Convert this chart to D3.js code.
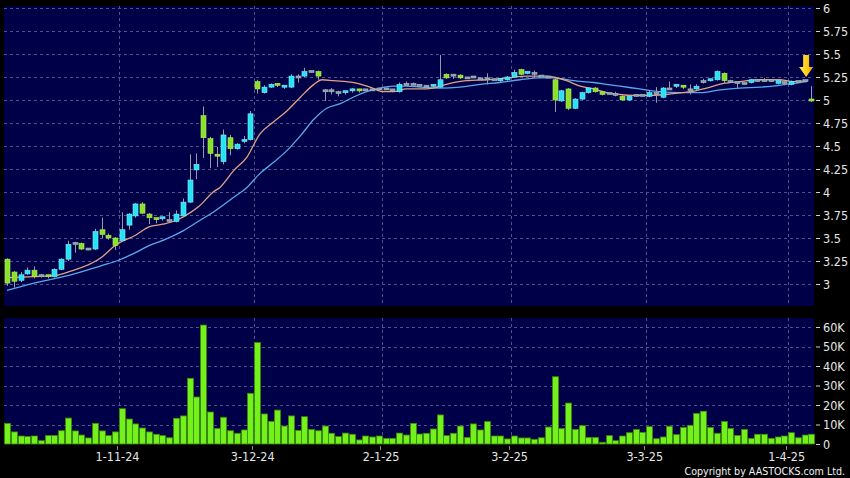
<!DOCTYPE html>
<html><head><meta charset="utf-8">
<script src="https://cdn.jsdelivr.net/npm/d3@7/dist/d3.min.js"></script>
<style>html,body{margin:0;padding:0;background:#000;}svg{display:block;}</style>
</head><body>
<svg id="chart" width="850" height="478"></svg>
<script>
// ---- data ----
const openP  = [3.27,3.13,3.04,3.11,3.15,3.09,3.09,3.08,3.16,3.27, 3.44,3.44,3.38,3.38,3.59,3.53,3.50,3.47,3.64,3.74,
                3.87,3.76,3.71,3.70,3.69,3.68,3.74,3.89,4.24,4.83, 4.58,4.40,4.33,4.59,4.47,4.54,4.57,5.20,5.08,5.14,
                5.17,5.13,5.14,5.25,5.26,5.31,5.31,5.10,5.10,5.08, 5.07,5.09,5.11,5.11,5.11,5.12,5.12,5.11,5.09,5.17,
                5.17,5.16,5.15,5.14,5.14,5.28,5.27,5.27,5.24,5.25, 5.23,5.23,5.22,5.20,5.22,5.25,5.33,5.29,5.29,5.26,
                5.25,5.22,4.99,5.12,4.91,5.01,5.08,5.13,5.09,5.07, 5.06,5.04,5.00,5.05,5.05,5.04,5.07,5.03,5.12,5.14,
                5.15,5.11,5.12,5.20,5.21,5.22,5.29,5.20,5.19,5.18, 5.19,5.21,5.21,5.21,5.18,5.19,5.17,5.20,5.21,5.00];
const closeP = [3.01,3.03,3.10,3.15,3.08,3.09,3.07,3.16,3.27,3.43, 3.44,3.38,3.38,3.57,3.54,3.50,3.42,3.59,3.76,3.87,
                3.77,3.72,3.70,3.72,3.69,3.76,3.89,4.13,4.30,4.59, 4.42,4.38,4.62,4.47,4.52,4.56,4.85,5.12,5.14,5.17,
                5.15,5.15,5.26,5.25,5.31,5.31,5.26,5.10,5.10,5.08, 5.09,5.11,5.09,5.11,5.11,5.12,5.12,5.11,5.17,5.17,
                5.17,5.16,5.15,5.16,5.22,5.24,5.27,5.24,5.24,5.25, 5.23,5.23,5.22,5.22,5.25,5.30,5.28,5.30,5.29,5.26,
                5.25,5.00,5.10,4.91,5.01,5.08,5.13,5.09,5.06,5.07, 5.06,5.00,5.04,5.05,5.05,5.08,5.07,5.13,5.12,5.16,
                5.13,5.11,5.15,5.20,5.22,5.31,5.21,5.20,5.19,5.18, 5.22,5.21,5.21,5.21,5.21,5.19,5.20,5.20,5.21,4.98];
const highP  = [3.28,3.14,3.13,3.18,3.19,3.11,3.10,3.17,3.28,3.47, 3.46,3.45,3.39,3.60,3.72,3.55,3.51,3.78,3.77,3.88,
                3.89,3.77,3.72,3.73,3.78,3.80,3.93,4.41,4.42,4.93, 4.60,4.49,4.68,4.62,4.53,4.61,4.88,5.22,5.16,5.18,
                5.18,5.16,5.28,5.28,5.35,5.32,5.32,5.12,5.13,5.10, 5.10,5.13,5.12,5.12,5.12,5.13,5.13,5.12,5.19,5.20,
                5.19,5.17,5.16,5.17,5.49,5.29,5.28,5.28,5.25,5.26, 5.24,5.29,5.23,5.22,5.26,5.33,5.34,5.31,5.32,5.27,
                5.26,5.23,5.11,5.13,5.02,5.09,5.14,5.14,5.10,5.08, 5.09,5.05,5.05,5.06,5.06,5.10,5.14,5.14,5.20,5.17,
                5.16,5.17,5.17,5.23,5.23,5.32,5.30,5.22,5.20,5.19, 5.23,5.23,5.24,5.22,5.22,5.20,5.21,5.21,5.22,5.15];
const lowP   = [2.98,2.96,3.02,3.10,3.06,3.07,3.06,3.07,3.15,3.25, 3.34,3.37,3.37,3.37,3.50,3.48,3.37,3.46,3.59,3.72,
                3.76,3.65,3.66,3.69,3.67,3.67,3.73,3.88,4.14,4.37, 4.26,4.27,4.30,4.40,4.46,4.53,4.56,5.07,5.07,5.13,
                5.14,5.12,5.13,5.19,5.25,5.30,5.22,4.99,5.06,5.04, 5.06,5.08,5.08,5.10,5.10,5.11,5.11,5.10,5.08,5.16,
                5.16,5.15,5.14,5.13,5.13,5.23,5.23,5.23,5.23,5.24, 5.22,5.17,5.21,5.19,5.21,5.24,5.27,5.28,5.24,5.25,
                5.24,4.87,4.98,4.89,4.90,5.00,5.07,5.08,5.05,5.06, 5.04,4.99,4.99,5.04,5.04,5.03,4.97,5.02,5.11,5.13,
                5.12,5.06,5.11,5.18,5.20,5.21,5.18,5.19,5.13,5.17, 5.18,5.20,5.20,5.20,5.17,5.16,5.16,5.19,5.20,4.98];
const volume = [10600,6200,4100,3800,4100,1700,4400,4400,6800,13300, 6700,4600,3100,10600,6700,4300,6200,18100,12800,10300,
                8200,6200,5000,4300,3200,13200,14400,33700,24100,61000, 16400,8000,13700,6800,5500,7200,26000,52000,15400,11600,
                17400,9200,14400,7000,14000,7500,6800,9200,5500,3800, 5600,5000,2100,4100,3600,4100,2900,2900,5600,4600,
                10600,5100,5500,7700,14900,4300,5500,9200,3400,10300, 7200,11500,4100,4100,2600,4100,3100,3100,2400,3200,
                8700,34500,7900,21000,7500,9400,3400,3400,900,4300, 1700,4100,5800,7500,6000,8900,2700,3600,9100,4800,
                8500,9600,15700,16800,8500,5500,11500,8000,4400,7500, 2900,5000,5000,2900,3600,4100,5800,3200,4600,5000];
// moving averages: [bar index, value]
const maShort = [[0,3.07],[7,3.09],[9,3.13],[14,3.29],[16,3.42],[19,3.53],[21,3.62],[23,3.65],[25,3.69],[27,3.77],
                 [28.5,3.85],[30.5,4.00],[31.5,4.05],[33.5,4.23],[35.5,4.38],[37.4,4.63],[39.4,4.76],[41.4,4.88],[43.4,5.03],
                 [45.4,5.17],[46.6,5.22],[48.3,5.21],[51.3,5.19],[53.7,5.14],[55.7,5.09],[57.2,5.09],[59.1,5.12],[61.1,5.12],
                 [63.1,5.13],[65,5.17],[68,5.21],[71,5.22],[74,5.24],[77,5.26],[79.8,5.26],[80.8,5.25],[82.8,5.21],[84.8,5.15],
                 [86.8,5.12],[88.7,5.08],[90.7,5.06],[92.7,5.05],[95.6,5.05],[98.6,5.07],[101.1,5.09],[103.5,5.13],[106,5.18],
                 [108.4,5.20],[111.4,5.22],[114.3,5.22],[116.3,5.20],[118.3,5.21]];
const maLong  = [[0,2.93],[4,3.01],[9,3.09],[14,3.20],[16.2,3.25],[18.7,3.33],[21.1,3.42],[23.6,3.49],[26.1,3.58],[28.5,3.69],
                 [30.5,3.78],[33.5,3.94],[35.5,4.05],[37.4,4.20],[39.4,4.32],[41.4,4.45],[43.4,4.61],[45.4,4.79],[47.3,4.91],
                 [49.3,4.96],[51.2,5.03],[53.2,5.09],[55.2,5.13],[57.2,5.15],[59.1,5.15],[61.1,5.14],[64.1,5.13],[67,5.14],
                 [70,5.17],[72.9,5.19],[75.9,5.22],[78.8,5.24],[80.8,5.24],[83.8,5.21],[86.8,5.19],[88.7,5.17],[90.7,5.15],
                 [93.6,5.12],[96.6,5.09],[99.6,5.08],[102.5,5.08],[105.5,5.11],[108.4,5.13],[111.4,5.14],[114.3,5.16],
                 [117.3,5.19],[118.3,5.20]];
const dateLabels = ["1-11-24","3-12-24","2-1-25","3-2-25","3-3-25","1-4-25"];
const dateIndex  = [17,37,56,75,95,116];   // first bar of each labelled month
const priceTicks = [3,3.25,3.5,3.75,4,4.25,4.5,4.75,5,5.25,5.5,5.75,6];
const volTicks   = [0,10000,20000,30000,40000,50000,60000];
const volTickLabels = ["0","10K","20K","30K","40K","50K","60K"];
const markerIndex = 118;

// ---- drawing ----
const svg = d3.select("#chart");
const W = 850, H = 478;
const L = 4, R = 814;
const n = openP.length;
const x = d3.scaleLinear().domain([0, n - 1]).range([7, 811.4]);
const yP = d3.scaleLinear().domain([3, 6]).range([284, 8]);
const yV = d3.scaleLinear().domain([0, 60000]).range([444, 327]);

svg.append("rect").attr("width", W).attr("height", H).attr("fill", "#000");
svg.append("rect").attr("x", L).attr("y", 6).attr("width", R - L).attr("height", 300).attr("fill", "#000048");
svg.append("rect").attr("x", L).attr("y", 318).attr("width", R - L).attr("height", 126).attr("fill", "#000048");

const gridCol = "#50508a";
// horizontal grid
svg.append("g").selectAll("line").data(priceTicks).join("line")
  .attr("x1", L).attr("x2", R).attr("y1", d => Math.round(yP(d)) + 0.5).attr("y2", d => Math.round(yP(d)) + 0.5)
  .attr("stroke", gridCol).attr("stroke-dasharray", "3,3");
svg.append("g").selectAll("line").data(volTicks.slice(1)).join("line")
  .attr("x1", L).attr("x2", R).attr("y1", d => Math.round(yV(d)) + 0.5).attr("y2", d => Math.round(yV(d)) + 0.5)
  .attr("stroke", gridCol).attr("stroke-dasharray", "3,3");
// vertical grid
dateIndex.forEach(i => {
  const gx = Math.round(x(i - 0.5)) + 0.5;
  svg.append("line").attr("x1", gx).attr("x2", gx).attr("y1", 6).attr("y2", 306)
    .attr("stroke", gridCol).attr("stroke-dasharray", "3,3");
  svg.append("line").attr("x1", gx).attr("x2", gx).attr("y1", 318).attr("y2", 444)
    .attr("stroke", gridCol).attr("stroke-dasharray", "3,3");
  svg.append("line").attr("x1", gx - 2).attr("x2", gx - 2).attr("y1", 446).attr("y2", 450)
    .attr("stroke", "#888");
});

// MA lines
const line = d3.line().x(d => x(d[0])).y(d => yP(d[1])).curve(d3.curveMonotoneX);
svg.append("path").attr("d", line(maLong)).attr("fill", "none").attr("stroke", "#5aa8ec").attr("stroke-width", 1.3);
svg.append("path").attr("d", line(maShort)).attr("fill", "none").attr("stroke", "#e2a184").attr("stroke-width", 1.3);

// candles
const bw = 5;
const candles = svg.append("g");
for (let i = 0; i < n; i++) {
  const o = openP[i], c = closeP[i];
  const cx = Math.round(x(i)) + 0.5;
  candles.append("line").attr("x1", cx).attr("x2", cx).attr("y1", yP(highP[i])).attr("y2", yP(lowP[i]))
    .attr("stroke", "#9a9aa6").attr("stroke-width", 1);
  let fill, stroke;
  if (c > o) { fill = "#26e2f2"; stroke = "#7feeff"; }
  else if (c < o) { fill = "#8be02a"; stroke = "#b2ee5e"; }
  else { fill = "#8aa0a8"; stroke = "#a8b8bc"; }
  const top = yP(Math.max(o, c)), bot = yP(Math.min(o, c));
  const h = Math.max(2, bot - top);
  candles.append("rect").attr("x", cx - bw / 2).attr("y", top - (h > bot - top ? 1 : 0))
    .attr("width", bw).attr("height", h).attr("fill", fill).attr("stroke", stroke).attr("stroke-width", 0.6);
}

// marker arrow
const ax = x(markerIndex) + 1.5;
svg.append("defs").html('<linearGradient id="ag" x1="0" x2="1" y1="0" y2="0"><stop offset="0" stop-color="#ffe866"/><stop offset="0.5" stop-color="#ffd21a"/><stop offset="1" stop-color="#e8a800"/></linearGradient>');
svg.append("path")
  .attr("d", `M${ax - 3},55 L${ax + 3},55 L${ax + 3},67 L${ax + 7},67 L${ax},77 L${ax - 7},67 L${ax - 3},67 Z`)
  .attr("fill", "url(#ag)");

// volume bars
svg.append("g").selectAll("rect").data(volume).join("rect")
  .attr("x", (d, i) => Math.round(x(i)) - 2.5).attr("width", 6)
  .attr("y", d => yV(d)).attr("height", d => yV(0) - yV(d))
  .attr("fill", "#74f01c").attr("stroke", "#3a8a08").attr("stroke-width", 0.8);

// right axes
const font = "'DejaVu Sans Condensed','DejaVu Sans',sans-serif";
const axisG = svg.append("g").attr("font-family", font).attr("font-size", 12.5).attr("fill", "#e6e6e6");
priceTicks.forEach(v => {
  axisG.append("line").attr("x1", 816).attr("x2", 820).attr("y1", yP(v) + 0.5).attr("y2", yP(v) + 0.5).attr("stroke", "#cfcfcf");
  axisG.append("text").attr("x", 823).attr("y", yP(v)).attr("dy", "0.36em").text(String(v));
});
volTicks.forEach((v, k) => {
  axisG.append("line").attr("x1", 816).attr("x2", 820).attr("y1", yV(v) + 0.5).attr("y2", yV(v) + 0.5).attr("stroke", "#cfcfcf");
  axisG.append("text").attr("x", 823).attr("y", yV(v)).attr("dy", "0.36em").text(volTickLabels[k]);
});
dateIndex.forEach((i, k) => {
  axisG.append("text").attr("x", x(i - 0.5) - 1).attr("y", 461).attr("text-anchor", "middle").text(dateLabels[k]);
});
svg.append("text").attr("x", 845).attr("y", 475).attr("text-anchor", "end")
  .attr("font-family", font).attr("font-size", 10.6).attr("fill", "#f2f2f2")
  .text("Copyright by AASTOCKS.com Ltd.");
</script>
</body></html>
